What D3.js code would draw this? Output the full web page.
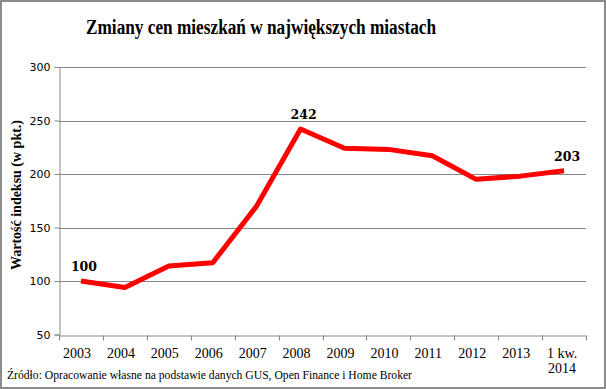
<!DOCTYPE html>
<html><head><meta charset="utf-8">
<script src="https://cdn.jsdelivr.net/npm/d3@7"></script>
<style>html,body{margin:0;padding:0;background:#fff}svg{display:block}</style>
</head><body><svg id="c" width="606" height="389"></svg>
<script>
const categories = ["2003","2004","2005","2006","2007","2008","2009","2010","2011","2012","2013","1 kw.\n2014"];
const values = [100, 94, 114, 117, 170, 242, 224, 223, 217, 195, 198, 203];
const labelledIdx = [0, 5, 11];
const yTicks = [50, 100, 150, 200, 250, 300];
const title = "Zmiany cen mieszkań w największych miastach";
const yTitle = "Wartość indeksu (w pkt.)";
const source = "Źródło: Opracowanie własne na podstawie danych GUS, Open Finance i Home Broker";

const W = 606, H = 389;
const m = {left: 59, right: 20, top: 67, bottom: 54.5};
const svg = d3.select("#c");
svg.append("rect").attr("x",1).attr("y",1).attr("width",W-2).attr("height",H-2)
  .attr("fill","#fff").attr("stroke","#8c8c8c").attr("stroke-width",2);

const x = d3.scaleBand().domain(categories).range([m.left, W - m.right]);
const y = d3.scaleLinear().domain([50, 300]).range([H - m.bottom, m.top]);

// gridlines
svg.append("g").selectAll("line").data(yTicks.filter(d=>d>50)).join("line")
  .attr("x1", m.left).attr("x2", W - m.right)
  .attr("y1", d=>Math.round(y(d))+0.5).attr("y2", d=>Math.round(y(d))+0.5)
  .attr("stroke","#878787").attr("stroke-width",1);

// y axis
const yAxis = svg.append("g").attr("transform",`translate(${m.left+0.5},0)`)
  .call(d3.axisLeft(y).tickValues(yTicks).tickSize(5).tickPadding(4));
yAxis.select(".domain").attr("stroke","#878787");
yAxis.selectAll(".tick line").attr("stroke","#878787");
yAxis.selectAll(".tick text").attr("font-family","DejaVu Sans, Verdana").attr("font-size",11).attr("fill","#000");

// x axis
const bottomY = Math.round(y(50))+0.5;
const xAxis = svg.append("g").attr("transform",`translate(0,${bottomY})`)
  .call(d3.axisBottom(x).tickSize(0).tickFormat(""));
xAxis.select(".domain").attr("stroke","#878787");
const bounds = categories.map(c=>x(c)).concat([x(categories[categories.length-1])+x.bandwidth()]);
svg.append("g").selectAll("line").data(bounds).join("line")
  .attr("x1",d=>Math.round(d)+0.5).attr("x2",d=>Math.round(d)+0.5)
  .attr("y1",bottomY).attr("y2",bottomY+5).attr("stroke","#878787");
const xl = svg.append("g").selectAll("text").data(categories).join("text")
  .attr("x", d=>x(d)+x.bandwidth()/2 - 4)
  .attr("y", bottomY + 22)
  .attr("text-anchor","middle")
  .attr("font-family","Liberation Serif, serif").attr("font-size",14).attr("fill","#000");
xl.each(function(d){
  const parts = d.split("\n");
  d3.select(this).selectAll("tspan").data(parts).join("tspan")
    .attr("x", x(d)+x.bandwidth()/2 - (parts.length>1?2:4)).attr("dy",(p,i)=>i===0?0:15.5).text(p=>p);
});

// line
const line = d3.line().x((d,i)=>x(categories[i])+x.bandwidth()/2).y(d=>y(d));
svg.append("path").datum(values).attr("d",line).attr("fill","none")
  .attr("stroke","#ff0000").attr("stroke-width",5).attr("stroke-linejoin","round").attr("stroke-linecap","butt");

// data labels
svg.append("g").selectAll("text").data(labelledIdx).join("text")
  .attr("x", i=>x(categories[i])+x.bandwidth()/2 + 3)
  .attr("y", i=>y(values[i]) - 10)
  .attr("text-anchor","middle")
  .attr("font-family","DejaVu Serif, serif").attr("font-weight","bold").attr("font-size",12.5)
  .attr("fill","#000").text(i=>values[i]);

// title
svg.append("text").attr("x",86).attr("y",34)
  .attr("font-family","Liberation Serif, serif").attr("font-weight","bold").attr("font-size",20)
  .attr("textLength",350).attr("lengthAdjust","spacingAndGlyphs")
  .attr("fill","#000").text(title);

// y title
svg.append("text").attr("transform","translate(21,270) rotate(-90)")
  .attr("font-family","Liberation Serif, serif").attr("font-weight","bold").attr("font-size",14)
  .attr("textLength",150).attr("lengthAdjust","spacingAndGlyphs")
  .attr("fill","#000").text(yTitle);

// source
svg.append("text").attr("x",7).attr("y",379)
  .attr("font-family","Liberation Serif, serif").attr("font-size",13.5)
  .attr("textLength",405).attr("lengthAdjust","spacingAndGlyphs")
  .attr("fill","#000").text(source);
</script></body></html>
